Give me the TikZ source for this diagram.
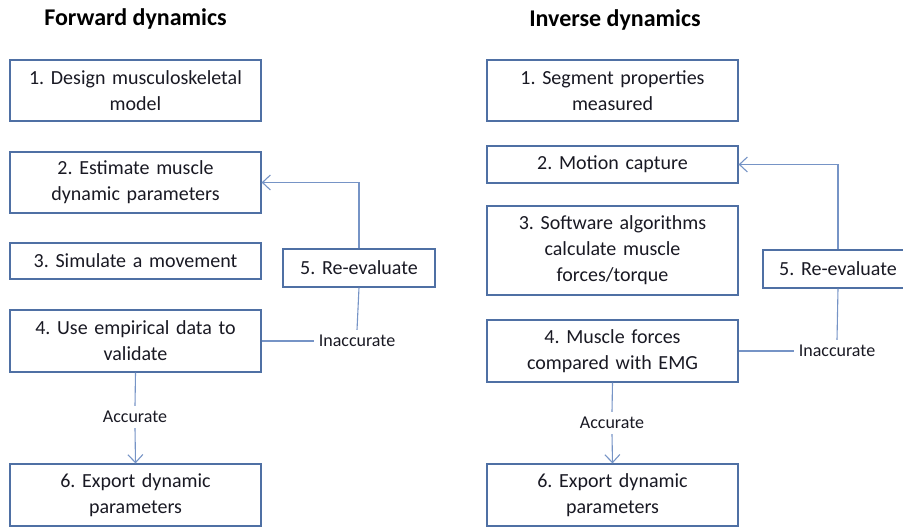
\documentclass[tikz,border=0pt]{standalone}
\usepackage{fontspec}
\setmainfont{Carlito}
\frenchspacing
\usetikzlibrary{arrows.meta,positioning}
\definecolor{boxline}{RGB}{79,112,164}
\definecolor{linkline}{RGB}{118,148,198}
\definecolor{inktext}{RGB}{25,25,35}
\tikzset{stepbox/.style={draw=boxline, line width=1.2pt, inner sep=0pt, align=center,
    minimum width=251pt, text width=248pt, text=inktext, font=\fontsize{20}{26}\selectfont}}
\tikzset{link/.style={draw=linkline, line width=1.1pt}}
\tikzset{linkarrow/.style={link, -{Straight Barb[length=8pt,width=15pt,line width=1.1pt]}}}
\tikzset{tag/.style={text=inktext, inner sep=5pt, font=\fontsize{18}{20}\selectfont}}
\tikzset{heading/.style={text=black, font=\fontsize{24}{28}\selectfont\bfseries}}

\begin{document}
\begin{tikzpicture}[x=1pt, y=-1pt]
    \useasboundingbox (0,0) rectangle (903,527);
    % forward dynamics
    \node[heading] (fhead) at (135.5, 19) {Forward dynamics};
    \node[stepbox, minimum height=61pt] (fdesign) at (135.5, 90.5) {1. Design musculoskeletal\\model};
    \node[stepbox, minimum height=61pt] (festimate) at (135.5, 182.5) {2. Estimate muscle\\dynamic parameters};
    \node[stepbox, minimum height=36pt] (fsimulate) at (135.5, 261) {3. Simulate a movement};
    \node[stepbox, minimum height=62pt] (fuse) at (135.5, 341) {4. Use empirical data to\\validate};
    \node[stepbox, minimum width=152pt, text width=148pt, minimum height=38pt] (freeval) at (359, 268) {5. Re-evaluate};
    \node[stepbox, minimum height=62pt] (fexport) at (135.5, 495) {6. Export dynamic\\parameters};
    \node[tag] (finacc) at (357, 341) {Inaccurate};
    \node[tag] (facc) at (135, 417) {Accurate};
    \draw[link] (fuse.east) -- (finacc.west);
    \draw[link] (freeval.south) -- (finacc.north);
    \draw[linkarrow] (freeval.north) |- (festimate.east);
    \draw[link] (fuse.south) -- (facc.north);
    \draw[linkarrow] (facc.south) -- (fexport.north);
    % inverse dynamics
    \node[heading] (ihead) at (615, 20) {Inverse dynamics};
    \node[stepbox, minimum height=61pt] (isegment) at (612.5, 90.5) {1. Segment properties\\measured};
    \node[stepbox, minimum height=37pt] (imotion) at (612.5, 164.5) {2. Motion capture};
    \node[stepbox, minimum height=89pt] (isoftware) at (612.5, 250.5) {3. Software algorithms\\calculate muscle\\forces/torque};
    \node[stepbox, minimum height=62pt] (imuscle) at (612.5, 351) {4. Muscle forces\\compared with EMG};
    \node[stepbox, minimum width=150pt, text width=146pt, minimum height=38pt] (ireeval) at (838, 269) {5. Re-evaluate};
    \node[stepbox, minimum height=62pt] (iexport) at (612.5, 495) {6. Export dynamic\\parameters};
    \node[tag] (iinacc) at (837, 351) {Inaccurate};
    \node[tag] (iacc) at (612, 423) {Accurate};
    \draw[link] (imuscle.east) -- (iinacc.west);
    \draw[link] (ireeval.south) -- (iinacc.north);
    \draw[linkarrow] (ireeval.north) |- (imotion.east);
    \draw[link] (imuscle.south) -- (iacc.north);
    \draw[linkarrow] (iacc.south) -- (iexport.north);
\end{tikzpicture}
\end{document}
